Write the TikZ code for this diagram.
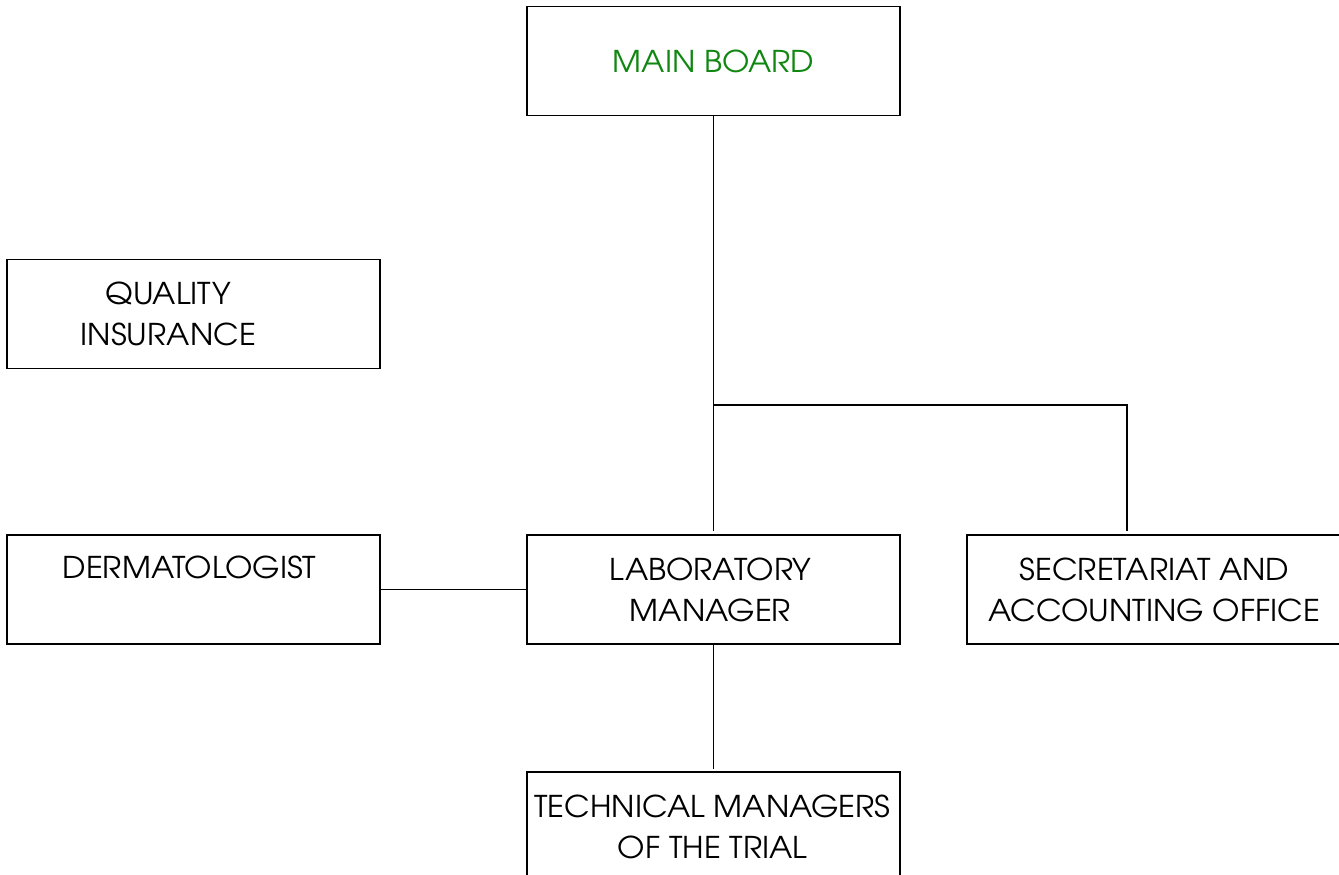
\documentclass[tikz,border=0pt]{standalone}
\usepackage{fontspec}
\setmainfont[FakeStretch=1.05]{TeX Gyre Adventor}
\definecolor{boardgreen}{RGB}{16,135,16}
\begin{document}
\begin{tikzpicture}[x=1pt,y=-1pt,
  box/.style={draw=black,line width=1.8pt,minimum width=373pt,minimum height=109pt,inner sep=0pt},
  lbl/.style={align=center,font=\fontsize{30}{41}\selectfont,inner sep=0pt},
  conn/.style={draw=black,line width=1.6pt}]
\useasboundingbox (0,0) rectangle (1339,875);
\node[box] (mb) at (713.5,61) {};
\node[lbl,text=boardgreen] (mbt) at (mb.center) {MAIN BOARD};
\node[box] (qi) at (193.5,314) {};
\node[lbl] (qit) at ([xshift=-25pt]qi.center) {QUALITY\\INSURANCE};
\node[box] (de) at (193.5,589.5) {};
\node[lbl,anchor=north] (det) at ([xshift=-4pt,yshift=-22pt]de.north) {DERMATOLOGIST};
\node[box] (lm) at (713.5,589.5) {};
\node[lbl] (lmt) at ([xshift=-3pt]lm.center) {LABORATORY\\MANAGER};
\node[box] (sa) at (1153.5,589.5) {};
\node[lbl] (sat) at ([xshift=1pt]sa.center) {SECRETARIAT AND\\ACCOUNTING OFFICE};
\node[box] (tm) at (713.5,826.5) {};
\node[lbl] (tmt) at ([xshift=-1pt]tm.center) {TECHNICAL MANAGERS\\OF THE TRIAL};
\coordinate (j) at (713.5,405);
\coordinate (k) at (1127,405);
\draw[conn,shorten >=3pt] (mb.south) -- (lm.north);
\draw[conn,shorten >=3pt] (j) -- (k) -- (k |- sa.north);
\draw[conn] (de.east) -- (lm.west);
\draw[conn,shorten >=2pt] (lm.south) -- (tm.north);
\end{tikzpicture}
\end{document}
